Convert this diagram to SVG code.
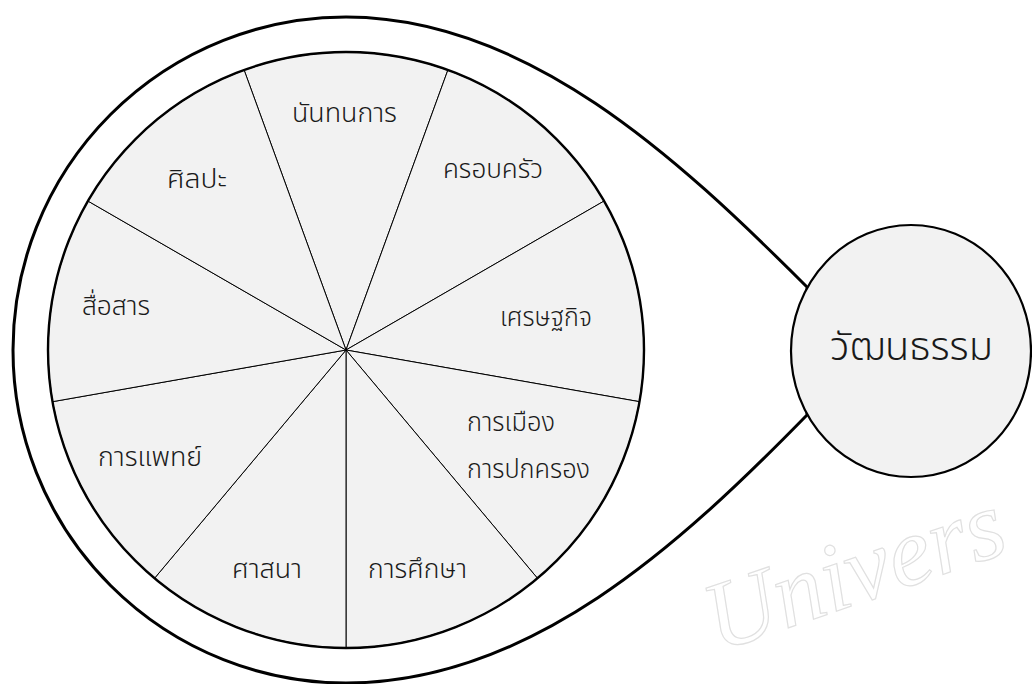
<svg xmlns="http://www.w3.org/2000/svg" width="1032" height="684" viewBox="0 0 1032 684">
<style>
.sector{fill:#f2f2f2;stroke:#000;stroke-width:1}
.lbl{font-family:"Noto Sans Thai","Noto Sans Thai UI",Tahoma,"Noto Sans","DejaVu Sans",sans-serif;font-size:26px;font-weight:300;fill:#1a1a1a}
.big{font-size:39px}
.wm{font-family:"Liberation Serif",serif;font-style:italic;font-size:98px;fill:none;stroke:#e0e0e0;stroke-width:1.2}
</style>
<rect width="1032" height="684" fill="#fff"/>
<text class="wm" x="718" y="652" transform="rotate(-19 718 652)">Univers</text>
<g id="connectors">
<path d="M 807 287 C 677 157 526 17 346 17 A 333 333 0 0 0 346 683 C 530 683 680 545 807 415 Z" fill="#fff" stroke="#000" stroke-width="3"/>
</g>
<g id="wheel">
<g id="s-nantanakan"><path class="sector" d="M346 350 L244.1 70 A298 298 0 0 1 447.9 70 Z"/><text class="lbl" x="292" y="122" textLength="105" lengthAdjust="spacingAndGlyphs">นันทนการ</text></g>
<g id="s-krobkrua"><path class="sector" d="M346 350 L447.9 70 A298 298 0 0 1 604.1 201 Z"/><text class="lbl" x="443" y="178" textLength="100" lengthAdjust="spacingAndGlyphs">ครอบครัว</text></g>
<g id="s-setthakit"><path class="sector" d="M346 350 L604.1 201 A298 298 0 0 1 639.5 401.7 Z"/><text class="lbl" x="500" y="326" textLength="92" lengthAdjust="spacingAndGlyphs">เศรษฐกิจ</text></g>
<g id="s-kanmueang"><path class="sector" d="M346 350 L639.5 401.7 A298 298 0 0 1 537.5 578.3 Z"/><text class="lbl" x="467" y="431" textLength="88" lengthAdjust="spacingAndGlyphs">การเมือง</text><text class="lbl" x="467" y="478" textLength="123" lengthAdjust="spacingAndGlyphs">การปกครอง</text></g>
<g id="s-kansueksa"><path class="sector" d="M346 350 L537.5 578.3 A298 298 0 0 1 346 648 Z"/><text class="lbl" x="368" y="578" textLength="99" lengthAdjust="spacingAndGlyphs">การศึกษา</text></g>
<g id="s-satsana"><path class="sector" d="M346 350 L346 648 A298 298 0 0 1 154.5 578.3 Z"/><text class="lbl" x="232" y="578" textLength="70" lengthAdjust="spacingAndGlyphs">ศาสนา</text></g>
<g id="s-kanphaet"><path class="sector" d="M346 350 L154.5 578.3 A298 298 0 0 1 52.5 401.7 Z"/><text class="lbl" x="98" y="466" textLength="104" lengthAdjust="spacingAndGlyphs">การแพทย์</text></g>
<g id="s-suesan"><path class="sector" d="M346 350 L52.5 401.7 A298 298 0 0 1 87.9 201 Z"/><text class="lbl" x="82" y="315" textLength="68" lengthAdjust="spacingAndGlyphs">สื่อสาร</text></g>
<g id="s-sinlapa"><path class="sector" d="M346 350 L87.9 201 A298 298 0 0 1 244.1 70 Z"/><text class="lbl" x="167" y="188" textLength="60" lengthAdjust="spacingAndGlyphs">ศิลปะ</text></g>
<circle cx="346" cy="350" r="298" fill="none" stroke="#000" stroke-width="2.4"/>
</g>
<g id="culture">
<ellipse cx="911" cy="351" rx="120" ry="126" fill="#f2f2f2" stroke="#000" stroke-width="2.2"/>
<text class="lbl big" x="830" y="360" textLength="163" lengthAdjust="spacingAndGlyphs">วัฒนธรรม</text>
</g>
</svg>
